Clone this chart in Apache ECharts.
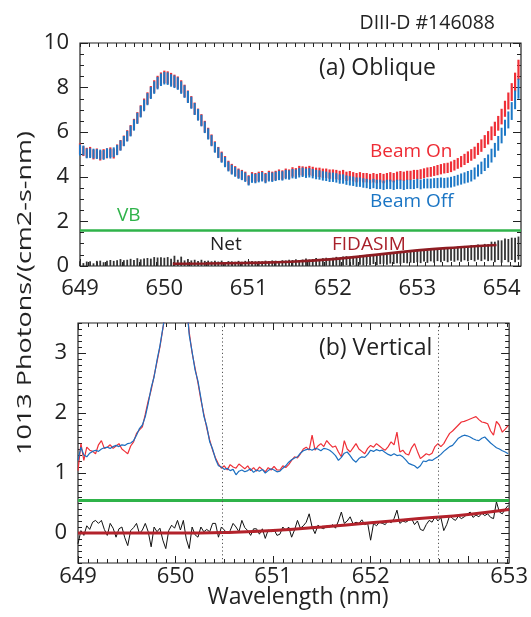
<!DOCTYPE html>
<html>
<head>
<meta charset="utf-8">
<script src="https://cdn.jsdelivr.net/npm/echarts@6/dist/echarts.min.js"></script>
<style>
  html, body { margin: 0; padding: 0; background: #fff; }
  #chart { width: 531px; height: 617px; }
</style>
</head>
<body>
<div id="chart"></div>
<script>
// ---- (a) Oblique view: wavelength grid, beam on / beam off with error bars, net ----
const wlA = [649.00,649.04,649.08,649.12,649.16,649.20,649.24,649.28,649.32,649.36,649.40,649.44,649.48,649.52,649.56,649.60,649.64,649.68,649.72,649.76,649.80,649.84,649.88,649.92,649.96,
  650.00,650.04,650.08,650.12,650.16,650.20,650.24,650.28,650.32,650.36,650.40,650.44,650.48,650.52,650.56,650.60,650.64,650.68,650.72,650.76,650.80,650.84,650.88,650.92,650.96,
  651.00,651.04,651.08,651.12,651.16,651.20,651.24,651.28,651.32,651.36,651.40,651.44,651.48,651.52,651.56,651.60,651.64,651.68,651.72,651.76,651.80,651.84,651.88,651.92,651.96,
  652.00,652.04,652.08,652.12,652.16,652.20,652.24,652.28,652.32,652.36,652.40,652.44,652.48,652.52,652.56,652.60,652.64,652.68,652.72,652.76,652.80,652.84,652.88,652.92,652.96,
  653.00,653.04,653.08,653.12,653.16,653.20,653.24,653.28,653.32,653.36,653.40,653.44,653.48,653.52,653.56,653.60,653.64,653.68,653.72,653.76,653.80,653.84,653.88,653.92,653.96,
  654.00,654.04,654.08,654.12,654.16,654.20];
const beamOnA = [5.25,5.15,5.08,5.12,5.00,5.05,4.95,5.02,5.05,5.10,5.04,5.22,5.42,5.62,5.85,6.08,6.35,6.65,6.95,7.25,7.52,7.80,8.05,8.25,8.40,
  8.48,8.45,8.38,8.30,8.22,8.05,7.85,7.60,7.35,7.06,6.80,6.55,6.25,5.95,5.65,5.35,5.10,4.90,4.70,4.50,4.36,4.26,4.16,4.10,4.02,
  3.86,4.00,3.96,4.02,4.05,3.96,4.06,4.02,4.06,4.12,4.08,4.16,4.12,4.22,4.18,4.28,4.26,4.24,4.28,4.24,4.20,4.20,4.16,4.16,4.12,
  4.12,4.10,4.06,4.10,4.02,4.05,4.00,3.96,4.00,3.96,3.96,3.92,3.96,3.92,3.96,3.92,3.96,4.00,3.96,4.02,4.05,4.02,4.06,4.06,4.10,
  4.10,4.12,4.16,4.20,4.22,4.26,4.30,4.34,4.38,4.40,4.45,4.52,4.60,4.68,4.78,4.88,4.98,5.08,5.25,5.40,5.58,5.75,5.95,6.15,6.40,
  6.70,7.05,7.40,7.80,8.25,8.80];
const beamOffA = [5.20,5.18,5.05,5.06,5.04,5.02,5.00,4.98,5.06,5.04,5.10,5.20,5.40,5.60,5.82,6.05,6.32,6.62,6.92,7.20,7.48,7.76,8.00,8.20,8.35,
  8.42,8.40,8.32,8.26,8.18,8.00,7.82,7.58,7.32,7.04,6.78,6.52,6.22,5.92,5.62,5.32,5.08,4.86,4.66,4.46,4.32,4.22,4.12,4.06,3.98,
  3.82,3.94,3.92,3.96,4.00,3.92,4.00,3.98,4.02,4.06,4.04,4.10,4.08,4.14,4.12,4.18,4.20,4.16,4.18,4.14,4.10,4.08,4.04,4.02,3.98,
  3.98,3.95,3.90,3.90,3.85,3.82,3.80,3.76,3.76,3.72,3.70,3.66,3.70,3.66,3.66,3.62,3.66,3.66,3.62,3.66,3.66,3.62,3.66,3.66,3.66,
  3.70,3.66,3.70,3.70,3.70,3.72,3.72,3.74,3.72,3.74,3.76,3.80,3.85,3.90,3.95,4.00,4.05,4.15,4.28,4.40,4.55,4.70,4.95,5.20,5.50,
  5.85,6.20,6.55,6.95,7.45,7.95];
const errA = [0.25,0.22,0.22,0.22,0.22,0.22,0.22,0.22,0.22,0.22,0.22,0.23,0.23,0.23,0.24,0.24,0.25,0.25,0.26,0.26,0.27,0.27,0.28,0.28,0.28,
  0.28,0.28,0.28,0.28,0.28,0.28,0.28,0.27,0.27,0.27,0.26,0.26,0.26,0.25,0.25,0.24,0.24,0.23,0.23,0.22,0.22,0.22,0.21,0.21,0.21,
  0.21,0.21,0.21,0.21,0.21,0.21,0.21,0.21,0.21,0.21,0.21,0.21,0.21,0.21,0.21,0.21,0.21,0.21,0.21,0.21,0.21,0.21,0.21,0.21,0.21,
  0.21,0.21,0.21,0.21,0.21,0.21,0.21,0.21,0.21,0.21,0.21,0.21,0.21,0.21,0.21,0.21,0.21,0.21,0.21,0.21,0.21,0.21,0.21,0.21,0.21,
  0.21,0.22,0.22,0.22,0.22,0.22,0.23,0.23,0.23,0.23,0.24,0.24,0.24,0.25,0.25,0.26,0.26,0.27,0.27,0.28,0.29,0.30,0.31,0.32,0.33,
  0.35,0.36,0.38,0.40,0.42,0.45];
const netA = [0.05,-0.02,0.06,0.04,-0.03,0.05,0.08,0.02,0.06,0.10,0.04,0.08,0.12,0.06,0.10,0.12,0.08,0.14,0.10,0.12,0.15,0.10,0.18,0.14,0.16,
  0.12,0.18,0.08,0.14,0.06,0.12,0.05,0.10,0.06,0.08,0.04,0.09,0.05,0.07,0.03,0.06,0.04,0.07,0.02,0.05,0.06,0.03,0.06,0.04,0.07,
  0.02,0.06,0.04,0.07,0.03,0.08,0.05,0.09,0.06,0.04,0.10,0.07,0.11,0.08,0.13,0.09,0.12,0.15,0.11,0.14,0.17,0.13,0.16,0.19,0.15,
  0.18,0.21,0.17,0.22,0.24,0.19,0.25,0.22,0.27,0.24,0.29,0.26,0.31,0.27,0.30,0.34,0.29,0.35,0.32,0.37,0.34,0.39,0.36,0.41,0.38,
  0.43,0.40,0.46,0.42,0.48,0.44,0.50,0.47,0.52,0.48,0.54,0.51,0.56,0.52,0.58,0.55,0.60,0.56,0.62,0.58,0.64,0.60,0.67,0.63,0.71,
  0.65,0.75,0.69,0.77,0.72,0.80];
const netErrA = [0.16,0.15,0.14,0.17,0.15,0.18,0.16,0.15,0.18,0.17,0.19,0.18,0.19,0.20,0.18,0.20,0.19,0.21,0.20,0.22,0.21,0.23,0.22,0.24,0.23,
  0.25,0.22,0.24,0.32,0.22,0.30,0.20,0.21,0.19,0.20,0.18,0.19,0.18,0.17,0.18,0.17,0.16,0.17,0.16,0.17,0.15,0.16,0.17,0.15,0.16,
  0.20,0.16,0.17,0.15,0.18,0.16,0.17,0.16,0.18,0.17,0.16,0.18,0.17,0.19,0.17,0.18,0.17,0.19,0.18,0.17,0.19,0.18,0.19,0.18,0.20,
  0.19,0.20,0.19,0.21,0.20,0.21,0.20,0.22,0.21,0.22,0.21,0.23,0.22,0.23,0.22,0.24,0.23,0.24,0.23,0.25,0.24,0.25,0.24,0.26,0.25,
  0.26,0.27,0.26,0.28,0.27,0.29,0.28,0.30,0.29,0.31,0.30,0.32,0.31,0.33,0.32,0.34,0.33,0.35,0.34,0.36,0.35,0.38,0.42,0.46,0.44,
  0.50,0.48,0.52,0.50,0.55,0.52];
const fidasimWlA = [650.10, 650.50, 651.00, 651.50, 652.00, 652.50, 653.00, 653.50, 653.94];
const fidasimA = [0.10, 0.11, 0.14, 0.19, 0.31, 0.50, 0.70, 0.84, 0.94];
const vbLevelA = 1.6;

// ---- (b) Vertical view ----
const wlB = [649.00,649.03,649.06,649.09,649.12,649.15,649.18,649.21,649.24,649.27,649.30,649.33,649.36,649.39,649.42,649.45,649.48,649.51,649.54,649.57,
  649.60,649.63,649.66,649.69,649.72,649.75,649.78,649.81,649.84,649.87,649.90,649.93,649.96,649.99,650.02,650.05,650.08,650.11,650.14,650.17,
  650.20,650.23,650.26,650.29,650.32,650.35,650.38,650.41,650.44,650.47,650.50,650.53,650.56,650.59,650.62,650.65,650.68,650.71,650.74,650.77,
  650.80,650.83,650.86,650.89,650.92,650.95,650.98,651.01,651.04,651.07,651.10,651.13,651.16,651.19,651.22,651.25,651.28,651.31,651.34,651.37,
  651.40,651.43,651.46,651.49,651.52,651.55,651.58,651.61,651.64,651.67,651.70,651.73,651.76,651.79,651.82,651.85,651.88,651.91,651.94,651.97,
  652.00,652.03,652.06,652.09,652.12,652.15,652.18,652.21,652.24,652.27,652.30,652.33,652.36,652.39,652.42,652.45,652.48,652.51,652.54,652.57,
  652.60,652.63,652.66,652.69,652.72,652.75,652.78,652.81,652.84,652.87,652.90,652.93,652.96,652.99,653.02,653.05,653.08,653.11,653.14,653.17,
  653.20,653.23,653.26,653.29,653.32,653.35,653.38,653.41];
const beamOnB = [1.04,1.49,1.21,1.43,1.38,1.36,1.32,1.47,1.54,1.41,1.43,1.47,1.41,1.45,1.49,1.40,1.36,1.32,1.45,1.52,
  1.66,1.72,1.77,1.98,2.20,2.38,2.62,2.85,3.10,3.40,3.75,4.30,4.90,5.40,5.50,5.20,4.60,3.85,3.35,3.00,
  2.75,2.50,2.22,1.98,1.75,1.55,1.38,1.25,1.15,1.08,1.12,1.05,1.14,1.10,1.08,1.15,1.11,1.07,1.12,1.04,
  1.09,1.03,1.10,1.06,1.02,1.09,1.05,1.11,1.05,1.05,1.12,1.09,1.14,1.21,1.27,1.25,1.32,1.40,1.43,1.38,
  1.63,1.38,1.45,1.49,1.44,1.54,1.48,1.43,1.45,1.35,1.27,1.54,1.40,1.35,1.42,1.49,1.40,1.36,1.32,1.41,
  1.46,1.43,1.49,1.45,1.41,1.38,1.44,1.52,1.47,1.68,1.35,1.38,1.32,1.30,1.42,1.49,1.36,1.24,1.28,1.32,
  1.30,1.33,1.44,1.49,1.44,1.49,1.58,1.66,1.70,1.75,1.80,1.85,1.86,1.88,1.90,1.92,1.94,1.89,1.85,1.84,
  1.82,1.70,1.63,1.86,1.80,1.68,1.73,1.79];
const beamOffB = [1.21,1.43,1.30,1.27,1.33,1.36,1.38,1.36,1.40,1.42,1.43,1.41,1.44,1.46,1.44,1.47,1.46,1.49,1.50,1.54,
  1.63,1.74,1.80,1.94,2.16,2.42,2.60,2.88,3.12,3.42,3.70,4.25,4.95,5.35,5.55,5.25,4.55,3.90,3.30,3.02,
  2.72,2.53,2.25,1.95,1.78,1.52,1.40,1.23,1.12,1.10,1.06,1.08,1.04,1.06,0.97,1.03,1.05,1.02,1.04,1.07,
  1.01,1.05,1.03,1.06,1.00,1.04,1.07,1.05,1.02,1.03,1.08,1.12,1.18,1.22,1.25,1.27,1.33,1.37,1.39,1.40,
  1.38,1.41,1.40,1.37,1.41,1.40,1.38,1.34,1.29,1.21,1.26,1.33,1.35,1.29,1.22,1.18,1.24,1.27,1.26,1.31,
  1.38,1.36,1.39,1.37,1.38,1.34,1.31,1.29,1.32,1.29,1.30,1.27,1.22,1.16,1.14,1.12,1.08,1.12,1.20,1.19,
  1.22,1.21,1.24,1.27,1.31,1.36,1.40,1.44,1.46,1.52,1.58,1.61,1.63,1.62,1.60,1.57,1.55,1.54,1.58,1.60,
  1.55,1.50,1.46,1.42,1.40,1.37,1.35,1.32];
const netB = [-0.18,0.04,-0.04,0.12,0.06,0.18,0.21,0.16,0.21,0.06,-0.04,0.16,0.08,-0.07,0.07,0.10,-0.08,-0.21,0.04,0.09,
  0.16,-0.01,0.05,0.16,0.02,-0.23,0.10,0.02,0.08,-0.12,-0.26,0.04,0.13,0.08,0.21,0.05,0.21,-0.10,-0.26,0.10,
  -0.03,-0.07,0.10,0.02,0.06,0.02,0.16,0.16,-0.07,0.10,0.05,-0.01,0.04,0.16,0.10,0.02,0.21,0.09,0.04,-0.04,
  0.07,0.07,-0.02,0.07,-0.09,0.05,0.02,0.06,-0.04,-0.02,0.10,0.04,0.10,-0.07,0.05,0.21,0.08,0.12,0.18,0.32,
  0.10,-0.01,0.13,0.09,0.07,0.12,0.10,0.14,0.08,0.20,0.35,0.16,0.20,0.27,0.15,0.18,0.16,0.22,0.14,0.16,
  -0.12,0.16,0.12,0.18,0.16,0.14,0.21,0.17,0.24,0.38,0.16,0.20,0.18,0.21,0.24,0.14,0.20,0.06,0.04,0.14,
  0.21,0.18,0.27,0.20,0.26,0.04,0.14,0.29,0.24,0.21,0.28,0.24,0.27,0.31,0.35,0.26,0.30,0.27,0.33,0.29,
  0.32,0.26,0.24,0.52,0.35,0.32,0.40,0.46];
const fidasimWlB = [649.00, 649.50, 650.00, 650.50, 651.00, 651.50, 652.00, 652.50, 653.00, 653.42];
const fidasimB = [0.00, 0.00, 0.00, 0.01, 0.04, 0.10, 0.17, 0.24, 0.31, 0.39];
const vbLevelB = 0.55;
const dottedLinesB = [650.48, 652.69];

// ---- axis ticks / labels ----
const xMajorA = [649, 650, 651, 652, 653, 654];
const xLabelsA = ['649', '650', '651', '652', '653', '654'];
const yMajorA = [0, 2, 4, 6, 8, 10];
const yLabelsA = ['0', '2', '4', '6', '8', '10'];
const xMajorB = [649, 650, 651, 652, 653];
const xLabelPosB = [649, 650, 651, 652, 653.42];
const xLabelsB = ['649', '650', '651', '652', '653'];
const yMajorB = [0, 1, 2, 3];
const yLabelsB = ['0', '1', '2', '3'];

const FONT = '"Open Sans", "DejaVu Sans", sans-serif';
const INK = '#222';

function steps(lo, hi, step) {
  const out = [];
  const n = Math.round((hi - lo) / step);
  for (let i = 0; i <= n; i++) out.push(Math.round((lo + i * step) * 1000) / 1000);
  return out;
}

function axis(gridIndex, position, min, max, ticks, len, labels) {
  const a = {
    type: 'value', gridIndex, position, min, max,
    axisLine: { show: false, onZero: false },
    splitLine: { show: false },
    axisTick: { show: true, inside: true, length: len, customValues: ticks, lineStyle: { color: INK, width: 1 } },
    axisLabel: { show: false }
  };
  if (labels) {
    a.axisLabel = {
      show: true,
      customValues: labels.pos,
      formatter: (v) => labels.text[labels.pos.indexOf(v)],
      fontSize: 22, fontFamily: FONT, color: INK, margin: labels.margin
    };
  }
  return a;
}

// vertical error bar drawn through the axes
function errorBar(color, width) {
  return function (params, api) {
    const x = api.value(0), y = api.value(1), e = api.value(2);
    const p1 = api.coord([x, y - e]);
    const p2 = api.coord([x, y + e]);
    const cs = params.coordSys;
    const top = cs.y, bottom = cs.y + cs.height;
    const y1 = Math.min(Math.max(p1[1], top), bottom);
    const y2 = Math.min(Math.max(p2[1], top), bottom);
    if (y1 === y2) return null;
    return {
      type: 'line',
      shape: { x1: p1[0], y1: y1, x2: p2[0], y2: y2 },
      style: { stroke: color, lineWidth: width }
    };
  };
}

const xMaxA = 654.23, xMaxB = 653.42;

const option = {
  animation: false,
  backgroundColor: '#fff',
  grid: [
    { left: 80, top: 43, right: 10, height: 223, show: true, borderColor: INK, borderWidth: 1.2 },
    { left: 78, top: 323, right: 20, height: 240, show: true, borderColor: INK, borderWidth: 1.2 }
  ],
  xAxis: [
    axis(0, 'bottom', 649, xMaxA, xMajorA, 7, { pos: xMajorA, text: xLabelsA, margin: 12 }),
    axis(0, 'bottom', 649, xMaxA, steps(649, 654.2, 0.1), 4),
    axis(0, 'top', 0, 4.92, [1, 2, 3, 4], 7),
    axis(0, 'top', 0, 4.92, steps(0, 4.9, 0.1), 4),
    axis(1, 'bottom', 649, xMaxB, xMajorB, 7, { pos: xLabelPosB, text: xLabelsB, margin: 3 }),
    axis(1, 'bottom', 649, xMaxB, steps(649, 653.4, 0.1), 4),
    axis(1, 'top', 649, xMaxB, xMajorB, 7),
    axis(1, 'top', 649, xMaxB, steps(649, 653.4, 0.1), 4)
  ],
  yAxis: [
    axis(0, 'left', 0, 10, yMajorA, 8, { pos: yMajorA, text: yLabelsA, margin: 11 }),
    axis(0, 'left', 0, 10, steps(0, 10, 0.5), 4),
    axis(0, 'right', 0, 10, yMajorA, 8),
    axis(0, 'right', 0, 10, steps(0, 10, 0.5), 4),
    axis(1, 'left', -0.5, 3.5, yMajorB, 8, { pos: yMajorB, text: yLabelsB, margin: 11 }),
    axis(1, 'left', -0.5, 3.5, steps(-0.5, 3.5, 0.1), 4),
    axis(1, 'right', -0.5, 3.5, yMajorB, 8),
    axis(1, 'right', -0.5, 3.5, steps(-0.5, 3.5, 0.1), 4)
  ],
  series: [
    // ---- top panel ----
    {
      type: 'line', xAxisIndex: 0, yAxisIndex: 0, data: [], silent: true,
      markLine: {
        symbol: 'none', silent: true, label: { show: false },
        lineStyle: { color: '#2fb34a', width: 2.5, type: 'solid' },
        data: [{ yAxis: vbLevelA }]
      }
    },
    {
      type: 'custom', name: 'Beam On', xAxisIndex: 0, yAxisIndex: 0,
      renderItem: errorBar('#ef2f37', 2.2), encode: { x: 0, y: 1 },
      data: wlA.map((x, i) => [x, beamOnA[i], errA[i]])
    },
    {
      type: 'custom', name: 'Beam Off', xAxisIndex: 0, yAxisIndex: 0,
      renderItem: errorBar('#1d78c6', 2.0), encode: { x: 0, y: 1 },
      data: wlA.map((x, i) => [x, beamOffA[i], errA[i]])
    },
    {
      type: 'custom', name: 'Net', xAxisIndex: 0, yAxisIndex: 0,
      renderItem: errorBar('#333333', 1.8), encode: { x: 0, y: 1 },
      data: wlA.map((x, i) => [x, netA[i], netErrA[i]])
    },
    {
      type: 'line', name: 'FIDASIM', xAxisIndex: 0, yAxisIndex: 0, smooth: true,
      symbol: 'none', lineStyle: { color: '#8e1c22', width: 2.6 },
      data: fidasimWlA.map((x, i) => [x, fidasimA[i]])
    },
    // ---- bottom panel ----
    {
      type: 'line', xAxisIndex: 4, yAxisIndex: 4, data: [], silent: true,
      markLine: {
        symbol: 'none', silent: true, label: { show: false },
        data: [
          { yAxis: vbLevelB, lineStyle: { color: '#2fb34a', width: 3, type: 'solid' } },
          { xAxis: dottedLinesB[0], lineStyle: { color: '#555', width: 1, type: [1.2, 2.6] } },
          { xAxis: dottedLinesB[1], lineStyle: { color: '#555', width: 1, type: [1.2, 2.6] } }
        ]
      }
    },
    {
      type: 'line', name: 'Beam On', xAxisIndex: 4, yAxisIndex: 4, symbol: 'none',
      lineStyle: { color: '#ef2f37', width: 1.2 },
      data: wlB.map((x, i) => [x, beamOnB[i]])
    },
    {
      type: 'line', name: 'Beam Off', xAxisIndex: 4, yAxisIndex: 4, symbol: 'none',
      lineStyle: { color: '#1b6fc0', width: 1.2 },
      data: wlB.map((x, i) => [x, beamOffB[i]])
    },
    {
      type: 'line', name: 'Net', xAxisIndex: 4, yAxisIndex: 4, symbol: 'none',
      lineStyle: { color: '#111', width: 1 },
      data: wlB.map((x, i) => [x, netB[i]])
    },
    {
      type: 'line', name: 'FIDASIM', xAxisIndex: 4, yAxisIndex: 4, smooth: true, symbol: 'none',
      lineStyle: { color: '#b3222b', width: 3 },
      data: fidasimWlB.map((x, i) => [x, fidasimB[i]])
    }
  ],
  graphic: [
    { type: 'text', x: 495, y: 23, style: { text: 'DIII-D #146088', fill: INK, fontSize: 19.5, fontFamily: FONT, align: 'right', verticalAlign: 'middle' } },
    { type: 'text', x: 319, y: 68, style: { text: '(a) Oblique', fill: INK, fontSize: 23, fontFamily: FONT, verticalAlign: 'middle' } },
    { type: 'text', x: 370, y: 152, style: { text: 'Beam On', fill: '#ee2b34', fontSize: 19, fontFamily: FONT, verticalAlign: 'middle' } },
    { type: 'text', x: 370, y: 202, style: { text: 'Beam Off', fill: '#1a75c4', fontSize: 19, fontFamily: FONT, verticalAlign: 'middle' } },
    { type: 'text', x: 117, y: 216, style: { text: 'VB', fill: '#2fb34a', fontSize: 19, fontFamily: FONT, verticalAlign: 'middle' } },
    { type: 'text', x: 210, y: 245, style: { text: 'Net', fill: INK, fontSize: 19, fontFamily: FONT, verticalAlign: 'middle' } },
    { type: 'text', x: 332, y: 245, style: { text: 'FIDASIM', fill: '#a8202a', fontSize: 19, fontFamily: FONT, verticalAlign: 'middle' } },
    { type: 'text', x: 319, y: 348, style: { text: '(b) Vertical', fill: INK, fontSize: 23, fontFamily: FONT, verticalAlign: 'middle' } },
    { type: 'text', x: 298, y: 597, style: { text: 'Wavelength (nm)', fill: INK, fontSize: 23, fontFamily: FONT, align: 'center', verticalAlign: 'middle' } },
    { type: 'text', x: 25, y: 293, rotation: Math.PI / 2, scaleY: 0.76, style: { text: '1013 Photons/(cm2-s-nm)', fill: INK, fontSize: 27, fontFamily: FONT, align: 'center', verticalAlign: 'middle' } }
  ]
};

const myChart = echarts.init(document.getElementById('chart'));
myChart.setOption(option);
</script>
</body>
</html>
